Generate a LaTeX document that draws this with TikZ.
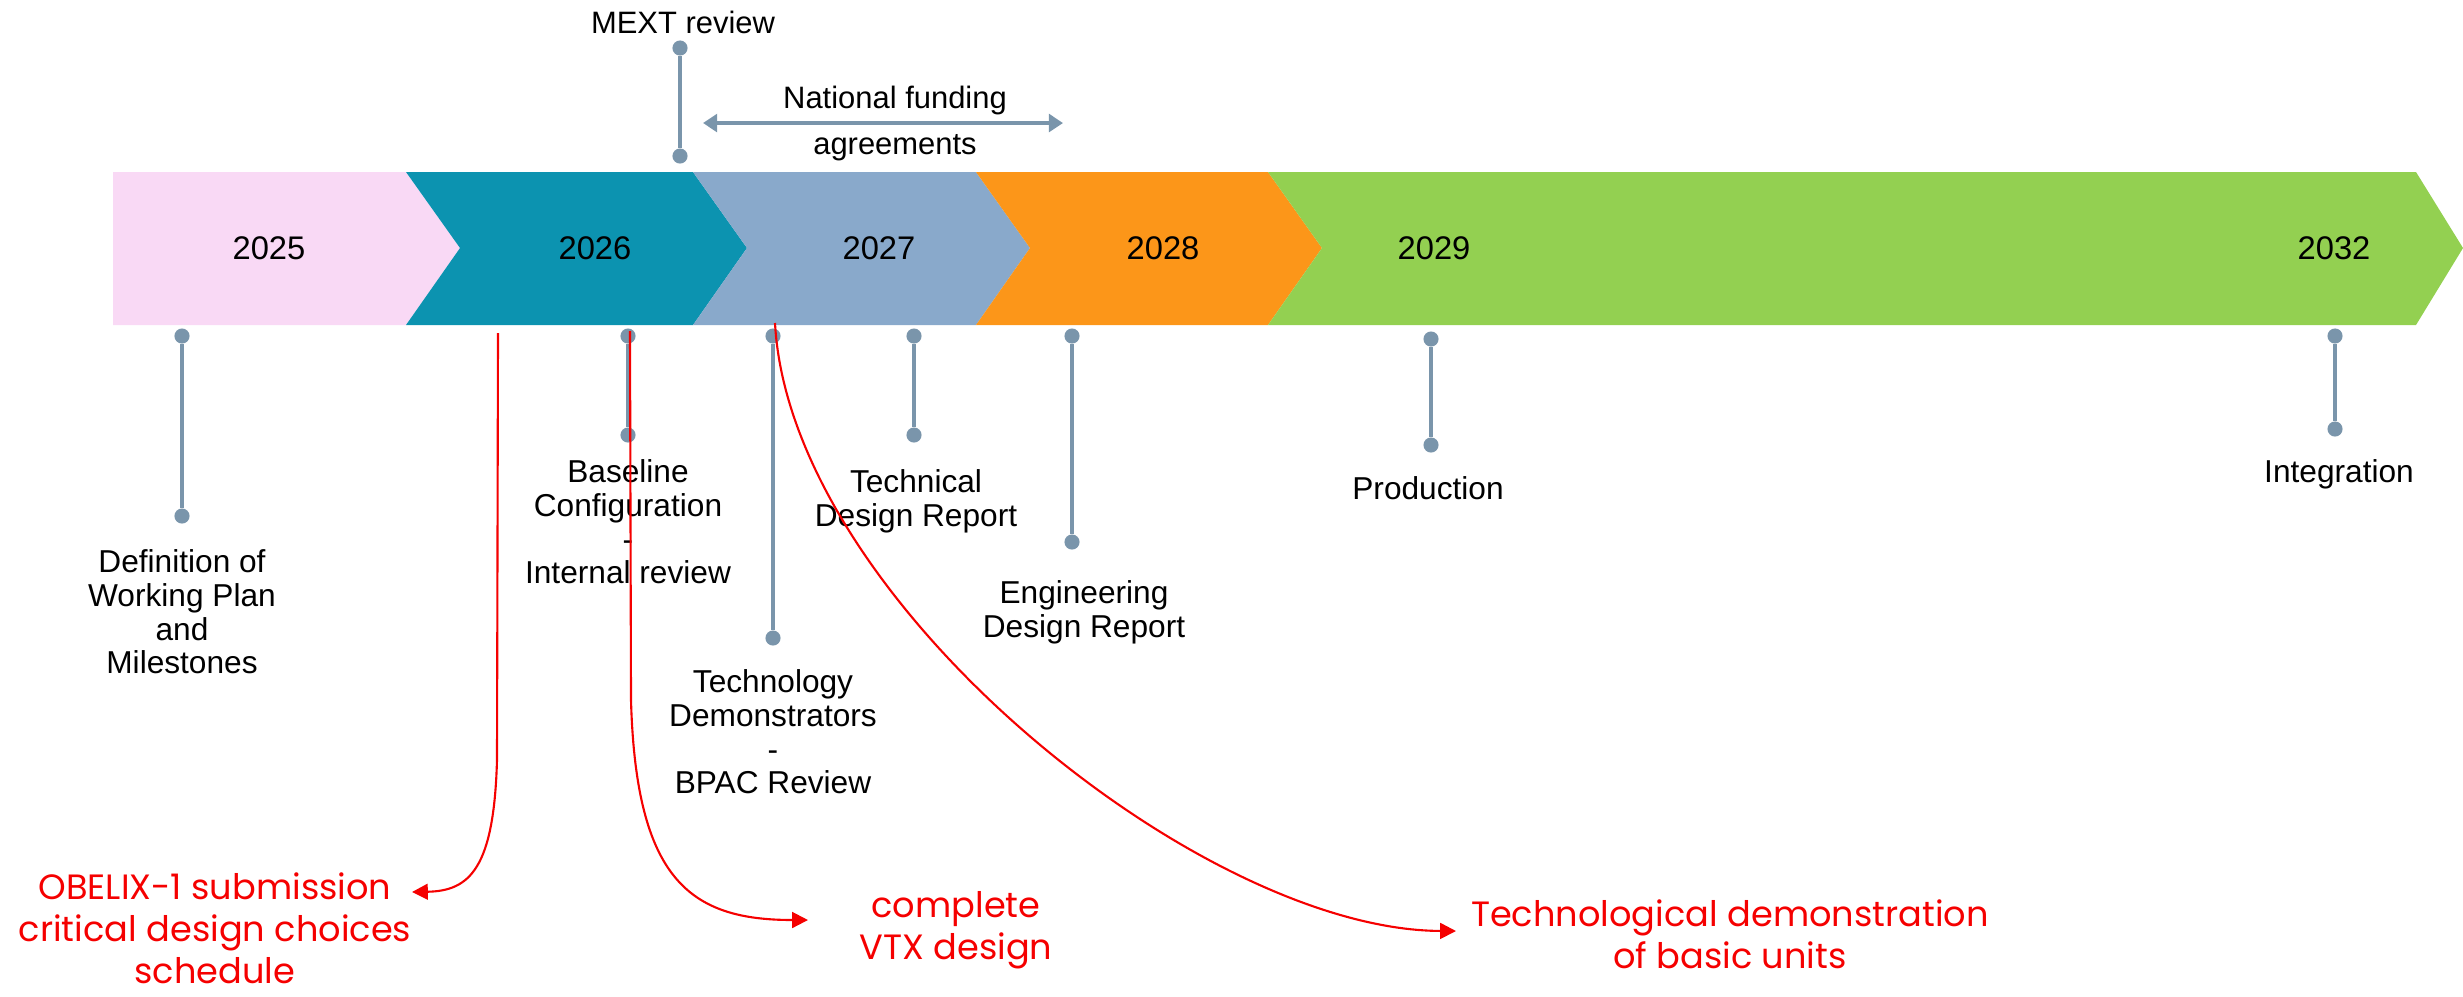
\documentclass[tikz,border=0pt]{standalone}
\usepackage{fontspec}
\setmainfont{Liberation Sans}
\newfontfamily\notefont{Poppins}
\usetikzlibrary{arrows.meta,positioning,calc}
\definecolor{c2025}{RGB}{249,217,245}
\definecolor{c2026}{RGB}{12,147,176}
\definecolor{c2027}{RGB}{137,169,203}
\definecolor{c2028}{RGB}{252,150,25}
\definecolor{c2029}{RGB}{147,208,81}
\definecolor{pincol}{RGB}{122,149,171}
\definecolor{notecol}{RGB}{245,0,0}
\tikzset{
  year/.style={font=\fontsize{9.3}{10}\selectfont},
  pindot/.style={circle,fill=pincol,inner sep=0pt,minimum size=4.3pt},
  pinline/.style={pincol,line width=1.1pt},
  toplabel/.style={font=\fontsize{8.8}{10}\selectfont},
  mstone/.style={font=\fontsize{9}{9.6}\selectfont,align=center,anchor=north,inner sep=0pt},
  note/.style={notecol,font=\notefont\fontsize{10}{12}\selectfont,align=center,anchor=north,inner sep=0pt},
  notearrow/.style={notecol,line width=0.6pt,-{Triangle[length=4.5pt,width=4.5pt]}},
}

\begin{document}
\begin{tikzpicture}[x=0.01cm,y=-0.01cm]
  \useasboundingbox (0,0) rectangle (2463,996);
  % the year band
  \fill[c2025] (113,172) -- (406,172) -- (460,248) -- (406,325) -- (113,325) -- cycle;
  \foreach \a/\b/\c in {406/693/c2026,693/976/c2027,976/1268/c2028}
    \fill[\c] (\a,172) -- (\b,172) -- (\b+54,248) -- (\b,325) -- (\a,325) -- (\a+54,248) -- cycle;
  \fill[c2029] (1268,172) -- (2416,172) -- (2463,248) -- (2416,325) -- (1268,325) -- (1322,248) -- cycle;
  \node[year] (y2025) at (269,248) {2025};
  \node[year] (y2026) at (595,248) {2026};
  \node[year] (y2027) at (879,248) {2027};
  \node[year] (y2028) at (1163,248) {2028};
  \node[year] (y2029) at (1434,248) {2029};
  \node[year] (y2032) at (2334,248) {2032};

  % above the band
  \node[pindot] (mexttop) at (680,48) {};
  \node[pindot] (mextbot) at (680,156) {};
  \draw[pinline] (mexttop) -- (mextbot);
  \node[toplabel] (mext) at (683,22) {MEXT review};
  \coordinate (fundl) at (703,123);
  \coordinate (fundr) at (1063,123);
  \draw[pinline,{Triangle[length=4pt,width=5pt]}-{Triangle[length=4pt,width=5pt]}] (fundl) -- (fundr);
  \node[toplabel] (fund1) at (895,100) {National funding};
  \node[toplabel] (fund2) at (895,148) {agreements};

  % milestones below the band
  \foreach \n/\x/\t/\b in {1/182/336/516,2/628/336/435,3/773/336/638,4/914/336/435,
                           5/1072/336/542,6/1431/339/445,7/2335/336/429} {
    \node[pindot] (p\n top) at (\x,\t) {};
    \node[pindot] (p\n bot) at (\x,\b) {};
    \draw[pinline] (p\n top) -- (p\n bot);
  }
  \node[mstone] (plan) at (182,549) {Definition of\\Working Plan\\and\\Milestones};
  \node[mstone] (baseline) at (628,459) {Baseline\\Configuration\\-\\Internal review};
  \node[mstone] (techdem) at (773,669) {Technology\\Demonstrators\\-\\BPAC Review};
  \node[mstone] (tdr) at (916,469) {Technical\\Design Report};
  \node[mstone] (edr) at (1084,580) {Engineering\\Design Report};
  \node[mstone] (prod) at (1428,476) {Production};
  \node[mstone] (integ) at (2339,459) {Integration};

  % red notes
  \node[note] (obelix) at (215,872) {OBELIX-1 submission\\critical design choices\\schedule};
  \node[note] (vtx) at (956,891) {complete\\VTX design};
  \node[note] (basic) at (1730,899) {Technological demonstration\\of basic units};
  \coordinate (obelixs) at (498,333);
  \coordinate (obelixe) at (412,892);
  \coordinate (vtxs) at (630,331);
  \coordinate (vtxe) at (808,920);
  \coordinate (basics) at (775,323);
  \coordinate (basice) at (1456,931);
  \draw[notearrow] (obelixs) -- (497,760) .. controls (494,868) and (470,891) .. (obelixe);
  \draw[notearrow] (vtxs) -- (631,700) .. controls (636,880) and (690,920) .. (vtxe);
  \draw[notearrow] (basics) .. controls (790,600) and (1200,930) .. (basice);
\end{tikzpicture}
\end{document}
